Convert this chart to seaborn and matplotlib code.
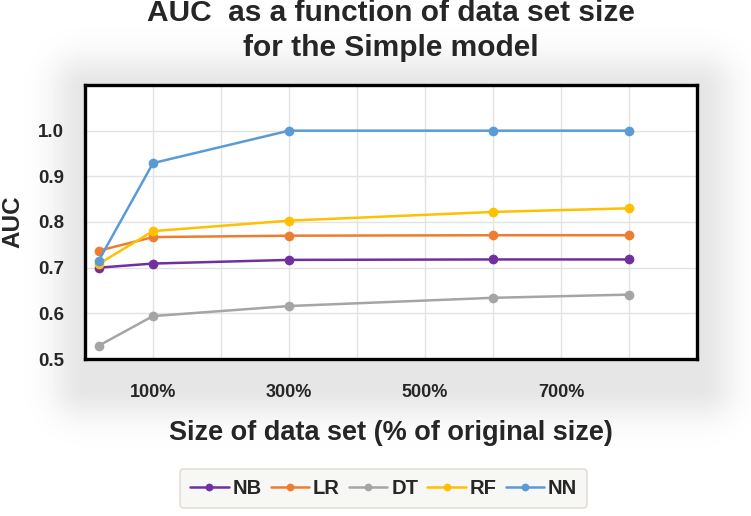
import numpy as np
import pandas as pd
import matplotlib
matplotlib.use('Agg')
import matplotlib.pyplot as plt
from matplotlib.ticker import FixedLocator, FixedFormatter
import seaborn as sns

# --- data ---
sizes = [20, 100, 300, 600, 800]   # % of original size
models = ['NB', 'LR', 'DT', 'RF', 'NN']
auc_nb = [0.700, 0.709, 0.717, 0.718, 0.718]
auc_lr = [0.737, 0.767, 0.770, 0.771, 0.771]
auc_dt = [0.529, 0.594, 0.616, 0.634, 0.641]
auc_rf = [0.708, 0.780, 0.803, 0.822, 0.830]
auc_nn = [0.715, 0.929, 1.000, 1.000, 1.000]
colors = ['#7030A0', '#ED7D31', '#A5A5A5', '#FFC000', '#5B9BD5']
x_ticks = [100, 200, 300, 400, 500, 600, 700, 800]
x_labels = ['100%', '', '300%', '', '500%', '', '700%', '']
y_ticks = [0.5, 0.6, 0.7, 0.8, 0.9, 1.0]

rows = []
for m, vals in zip(models, [auc_nb, auc_lr, auc_dt, auc_rf, auc_nn]):
    for s, v in zip(sizes, vals):
        rows.append({'size': s, 'AUC': v, 'model': m})
df = pd.DataFrame(rows)

sns.set_style('white')
plt.rcParams['font.family'] = ['Liberation Sans', 'DejaVu Sans']

W, H = 751, 516
fig = plt.figure(figsize=(W / 100, H / 100), dpi=100)

# soft grey shadow behind the plot block
bg = fig.add_axes([0, 0, 1, 1], zorder=-5)
yy, xx = np.mgrid[0:H, 0:W]
x0, x1, y0, y1 = 85, 700, 88, 385
dx = np.maximum(np.maximum(x0 - xx, xx - x1), 0)
dy = np.maximum(np.maximum(y0 - yy, yy - y1), 0)
d = np.hypot(dx, dy)
shade = 1 - 0.10 * np.exp(-(d / 34.0) ** 2)
bg.imshow(shade, cmap='gray', vmin=0, vmax=1, extent=[0, W, H, 0], aspect='auto')
bg.axis('off')

ax = fig.add_axes([85 / W, 1 - 359 / H, (697 - 85) / W, (359 - 85) / H])
sns.lineplot(data=df, x='size', y='AUC', hue='model', hue_order=models,
             palette=colors, marker='o', markersize=7, markeredgewidth=0,
             linewidth=1.8, ax=ax)

ax.set_xlim(0, 900)
ax.set_ylim(0.5, 1.1)
ax.xaxis.set_major_locator(FixedLocator(x_ticks))
ax.xaxis.set_major_formatter(FixedFormatter(x_labels))
ax.set_yticks(y_ticks)
ax.set_yticklabels([f'{v:.1f}' for v in y_ticks])
ax.grid(True, color='#e3e3e3', linewidth=1.0)
ax.set_axisbelow(True)
for sp in ax.spines.values():
    sp.set_visible(True)
    sp.set_color('black')
    sp.set_linewidth(2.4)
ax.tick_params(axis='both', direction='out', length=9, width=2.6, color='black')
ax.tick_params(axis='x', labelsize=13, pad=9)
ax.tick_params(axis='y', labelsize=13.5, pad=6)
for lab in ax.get_xticklabels() + ax.get_yticklabels():
    lab.set_fontweight('bold')

ax.set_xlabel('Size of data set (% of original size)', fontsize=19.5, fontweight='bold',
              labelpad=14)
ax.set_ylabel('AUC', fontsize=17.5, fontweight='bold')
ax.yaxis.set_label_coords(-0.099, 0.5)
ax.set_title('AUC  as a function of data set size\nfor the Simple model', fontsize=21.5,
             fontweight='bold', pad=21, linespacing=1.3)

handles, labels = ax.get_legend_handles_labels()
leg = ax.legend(handles, labels, loc='center', bbox_to_anchor=(0.511, 0.054),
                bbox_transform=fig.transFigure, ncol=5, frameon=True, fancybox=True,
                prop={'weight': 'bold', 'size': 14.5}, handlelength=1.9,
                handletextpad=0.2, columnspacing=0.45, borderpad=0.5, markerscale=0.8)
leg.get_frame().set_facecolor('#f7f7f5')
leg.get_frame().set_edgecolor('#e4dfd4')
leg.get_frame().set_linewidth(1.2)
leg.get_frame().set_alpha(1)

fig.savefig('out.png', dpi=100)
